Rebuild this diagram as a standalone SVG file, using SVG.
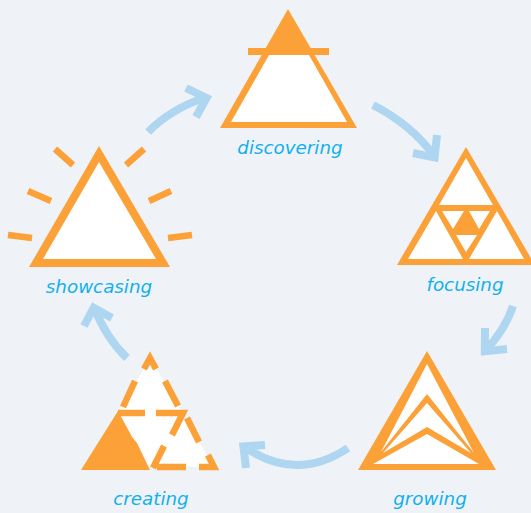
<svg xmlns="http://www.w3.org/2000/svg" width="531" height="513" viewBox="0 0 531 513">
<style>
.o{fill:#fba137}
.w{fill:#fff}
.s{fill:none;stroke:#fba137;stroke-width:6.500;stroke-linejoin:miter}
.a{fill:none;stroke:#aed6f1;stroke-width:8;stroke-miterlimit:10}
text{font-family:"DejaVu Sans",Verdana,sans-serif;font-style:italic;font-size:18.300px;fill:#12b0ec;text-anchor:middle}
</style>
<rect width="531" height="513" fill="#eff3f8"/>
<g id="connectors">
<path class="a" d="M148,132Q172,108 207,97"/><path class="a" d="M186,88L206.500,97.900L196,117"/>
<path class="a" d="M373,105Q412,125 435,157"/><path class="a" d="M413,153L434.600,157.500L437,135"/>
<path class="a" d="M513,306Q505,330 485,351"/><path class="a" d="M485,328L484.800,351.400L507,349"/>
<path class="a" d="M348,448Q296,483 243,446"/><path class="a" d="M265,445L243.400,446.500L246,468"/>
<path class="a" d="M127,358Q106,338 94,307"/><path class="a" d="M112,318L93.700,307.700L84,326"/>
</g>
<g id="discovering">
<polygon class="o" points="288,9 357,128 220,128"/>
<rect class="o" x="248" y="48" width="81" height="7"/>
<polygon class="w" points="269,55 309,55 347,122 231,122"/>
<text x="290" y="154">discovering</text>
</g>
<g id="focusing">
<polygon class="o" points="466,147 535,265 397,265"/>
<polygon class="w" points="466,158 493,205 439,205"/>
<polygon class="w" points="436,211 463,259 408,259"/>
<polygon class="w" points="497,211 524,259 469,259"/>
<polygon class="w" points="442,211 464,211 453,229"/>
<polygon class="w" points="469,211 490,211 479,229"/>
<polygon class="w" points="456,235 477,235 466,252"/>
<text x="465" y="291">focusing</text>
</g>
<g id="growing">
<polygon class="o" points="427,351 496,470 358,470"/>
<polygon class="w" points="427,364 474,453 427,394 381,452"/>
<polygon class="w" points="427,403 471,453 427,427 383,453"/>
<polygon class="w" points="427,434 479,464 373,464"/>
<text x="430" y="505">growing</text>
</g>
<g id="creating">
<polygon class="w" points="150,358 214,467 86,467"/>
<polygon class="o" points="118,411 131,435 132,437 137,443 150,470 81,470"/>
<path class="s" d="M144,369L150,358L156,369M135,381L123,407M165,381L178,406M118,413H145M156,413H183L172,435M187,418L199,442M208,455L214,467H199M157,467H186M164,446L153,468"/>
<text x="151" y="505">creating</text>
</g>
<g id="showcasing">
<polygon class="o" points="99,146 170,267 29,267"/>
<polygon class="w" points="99,162 156,259 43,259"/>
<path class="s" d="M55,149L73,165M28,191L51,201M8,235L32,238M144,149L126,165M171,191L149,201M192,235L168,238"/>
<text x="99" y="293">showcasing</text>
</g>
</svg>
